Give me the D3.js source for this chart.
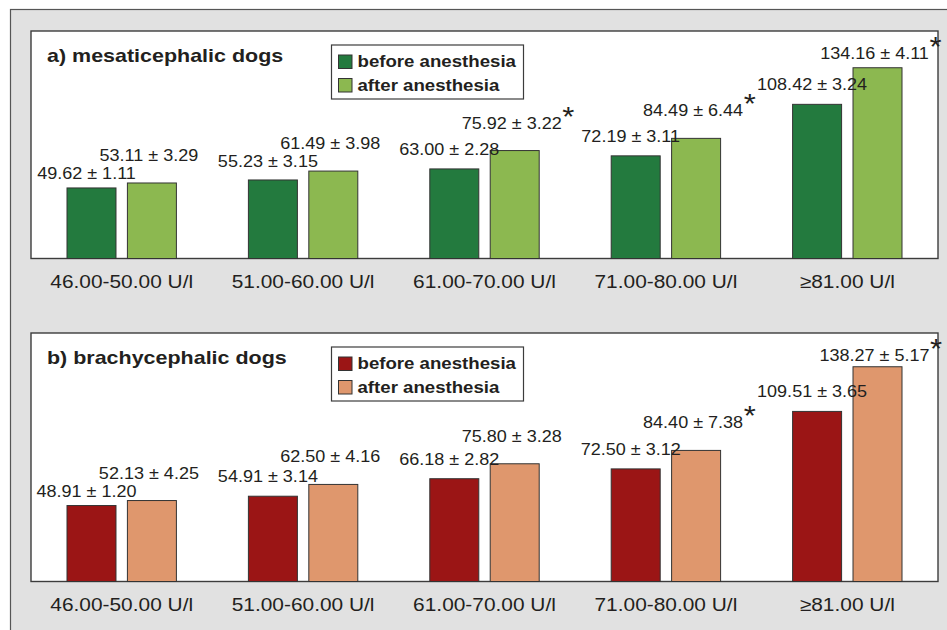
<!DOCTYPE html>
<html><head><meta charset="utf-8">
<script src="https://cdn.jsdelivr.net/npm/d3@7"></script>
<style>
html,body{margin:0;padding:0;background:#fff;}
svg{display:block;font-family:"Liberation Sans",Arial,Helvetica,sans-serif;}
</style></head>
<body><svg id="chart" width="947" height="630"></svg>
<script>
// ---- data ----
const categories = ["46.00-50.00 U/l","51.00-60.00 U/l","61.00-70.00 U/l","71.00-80.00 U/l","≥81.00 U/l"];
const seriesNames = ["before anesthesia","after anesthesia"];
const mesBefore   = [49.62, 55.23, 63.00, 72.19, 108.42];
const mesBeforeSD = [1.11, 3.15, 2.28, 3.11, 3.24];
const mesAfter    = [53.11, 61.49, 75.92, 84.49, 134.16];
const mesAfterSD  = [3.29, 3.98, 3.22, 6.44, 4.11];
const mesSig      = [false, false, true, true, true];
const braBefore   = [48.91, 54.91, 66.18, 72.50, 109.51];
const braBeforeSD = [1.20, 3.14, 2.82, 3.12, 3.65];
const braAfter    = [52.13, 62.50, 75.80, 84.40, 138.27];
const braAfterSD  = [4.25, 4.16, 3.28, 7.38, 5.17];
const braSig      = [false, false, false, true, true];
const yMax = 160;

const SX = 1.1; // horizontal stretch of the lettering
const svg = d3.select("#chart");

// outer grey frame
svg.append("rect").attr("x",10.5).attr("y",9.5).attr("width",960).attr("height",640)
  .attr("fill","#e1e1e1").attr("stroke","#555").attr("stroke-width",1.2);

function stext(g, x, y, txt, size, weight, anchor, sx){
  return g.append("text")
    .attr("transform",`translate(${x},${y}) scale(${sx||SX},1)`)
    .attr("text-anchor",anchor||"start")
    .attr("font-size",size).attr("font-weight",weight||"normal")
    .attr("fill","#231f20").text(txt);
}

function panel(cfg){
  const {top,bottom,left,right,title,before,beforeSD,after,afterSD,sig,colors} = cfg;
  const g = svg.append("g");
  g.append("rect").attr("x",left).attr("y",top).attr("width",right-left).attr("height",bottom-top)
    .attr("fill","#fff").attr("stroke","#3c3c3c").attr("stroke-width",1.4);

  const x0 = d3.scaleBand().domain(categories).range([left,right]);
  const x1 = d3.scaleBand().domain(seriesNames).range([-54.7,54.7]).paddingInner(0.189);
  const y = d3.scaleLinear().domain([0,yMax]).range([bottom,top]);
  const color = d3.scaleOrdinal().domain(seriesNames).range(colors);

  const rows = [];
  categories.forEach((c,i)=>{
    rows.push({cat:c,s:seriesNames[0],v:before[i],sd:beforeSD[i],sig:false});
    rows.push({cat:c,s:seriesNames[1],v:after[i],sd:afterSD[i],sig:sig[i]});
  });

  g.selectAll("rect.bar").data(rows).join("rect").attr("class","bar")
    .attr("x",d=>x0(d.cat)+x0.bandwidth()/2+x1(d.s))
    .attr("y",d=>y(d.v)).attr("width",x1.bandwidth()).attr("height",d=>bottom-y(d.v))
    .attr("fill",d=>color(d.s)).attr("stroke","#333").attr("stroke-width",1);

  // value labels
  const cxOf = d => x0(d.cat)+x0.bandwidth()/2+x1(d.s)+x1.bandwidth()/2;
  categories.forEach((c,i)=>{
    const b = rows[2*i], a = rows[2*i+1];
    const aY = Math.max(y(a.v)-22, top+28);
    const bY = Math.max(y(b.v)-14, aY+18);
    [[b,bY,-5],[a,aY,-3]].forEach(([d,by,dx])=>{
      const cx = cxOf(d)+dx;
      const t = stext(g, cx, by, d.v.toFixed(2)+" ± "+d.sd.toFixed(2), 16.4, "normal", "middle");
      if(d.sig){
        const w = t.node().getComputedTextLength()*SX;
        stext(g, cx + w/2 + 0.5, by - 3, "*", 27, "normal", "start", 1.15);
      }
    });
  });

  // category labels
  categories.forEach(c=>{
    stext(g, x0(c)+x0.bandwidth()/2, bottom+29.5, c, 18.5, "normal", "middle", 1.13);
  });

  // title
  stext(g, left+16, top+31, title, 19, "bold", "start", 1.13);

  // legend
  const lx = 331.5, ly = top+14;
  g.append("rect").attr("x",lx).attr("y",ly).attr("width",192).attr("height",54)
    .attr("fill","#fff").attr("stroke","#3c3c3c").attr("stroke-width",1.2);
  seriesNames.forEach((s,i)=>{
    g.append("rect").attr("x",lx+7).attr("y",ly+10+i*23.5).attr("width",13.5).attr("height",13.5)
      .attr("fill",color(s)).attr("stroke","#333").attr("stroke-width",1);
    stext(g, lx+26, ly+22+i*24, s, 16.5, "bold", "start", 1.13);
  });
}

panel({top:31,bottom:258.5,left:31,right:938,title:"a) mesaticephalic dogs",
  before:mesBefore,beforeSD:mesBeforeSD,after:mesAfter,afterSD:mesAfterSD,sig:mesSig,
  colors:["#237a3e","#8cb850"]});
panel({top:333,bottom:581.5,left:31,right:938,title:"b) brachycephalic dogs",
  before:braBefore,beforeSD:braBeforeSD,after:braAfter,afterSD:braAfterSD,sig:braSig,
  colors:["#9b1515","#df976d"]});
</script></body></html>
